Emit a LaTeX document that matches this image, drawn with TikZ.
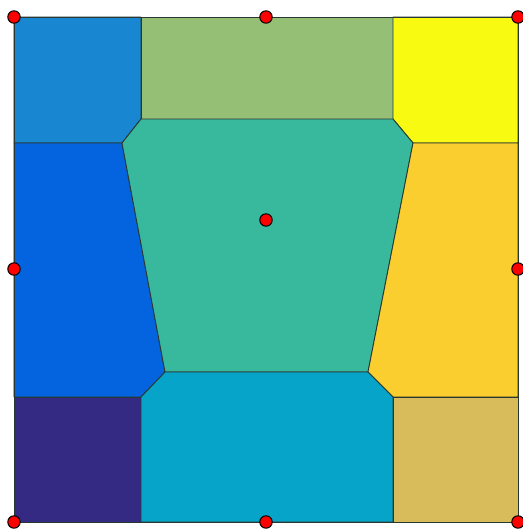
\documentclass[tikz,border=0pt]{standalone}
\definecolor{cTL}{RGB}{24,134,208}
\definecolor{cTM}{RGB}{148,191,117}
\definecolor{cTR}{RGB}{249,250,18}
\definecolor{cML}{RGB}{4,100,224}
\definecolor{cMM}{RGB}{56,184,157}
\definecolor{cMR}{RGB}{251,206,48}
\definecolor{cBL}{RGB}{52,42,132}
\definecolor{cBM}{RGB}{6,164,200}
\definecolor{cBR}{RGB}{216,188,92}
\definecolor{edge}{RGB}{40,55,50}
\begin{document}
\begin{tikzpicture}[x=0.02cm,y=-0.02cm,line width=0.5pt,
  cell/.style={draw=edge,line join=round},
  pt/.style={fill=red,draw=black,line width=0.6pt}]
  \useasboundingbox (0,0) rectangle (523,532);
  % top row
  \filldraw[cell,fill=cTL] (14,17) -- (141,17) -- (141,119) -- (122,143) -- (14,143) -- cycle;
  \filldraw[cell,fill=cTM] (141,17) rectangle (393,119);
  \filldraw[cell,fill=cTR] (393,17) -- (518,17) -- (518,143) -- (413,143) -- (393,119) -- cycle;
  % middle row
  \filldraw[cell,fill=cML] (14,143) -- (122,143) -- (165,372) -- (141,397) -- (14,397) -- cycle;
  \filldraw[cell,fill=cMM] (141,119) -- (393,119) -- (413,143) -- (368,372) -- (165,372) -- (122,143) -- cycle;
  \filldraw[cell,fill=cMR] (413,143) -- (518,143) -- (518,397) -- (393,397) -- (368,372) -- cycle;
  % bottom row
  \filldraw[cell,fill=cBL] (14,397) rectangle (141,522);
  \filldraw[cell,fill=cBM] (141,397) -- (165,372) -- (368,372) -- (393,397) -- (393,522) -- (141,522) -- cycle;
  \filldraw[cell,fill=cBR] (393,397) rectangle (518,522);
  % outer frame
  \draw[edge] (14,17) rectangle (518,522);
  % nodal points
  \foreach \px/\py in {14/17,266/17,518/17,14/269,518/269,14/522,266/522,518/522,266/220}
    \filldraw[pt] (\px,\py) circle (6.2);
\end{tikzpicture}
\end{document}
